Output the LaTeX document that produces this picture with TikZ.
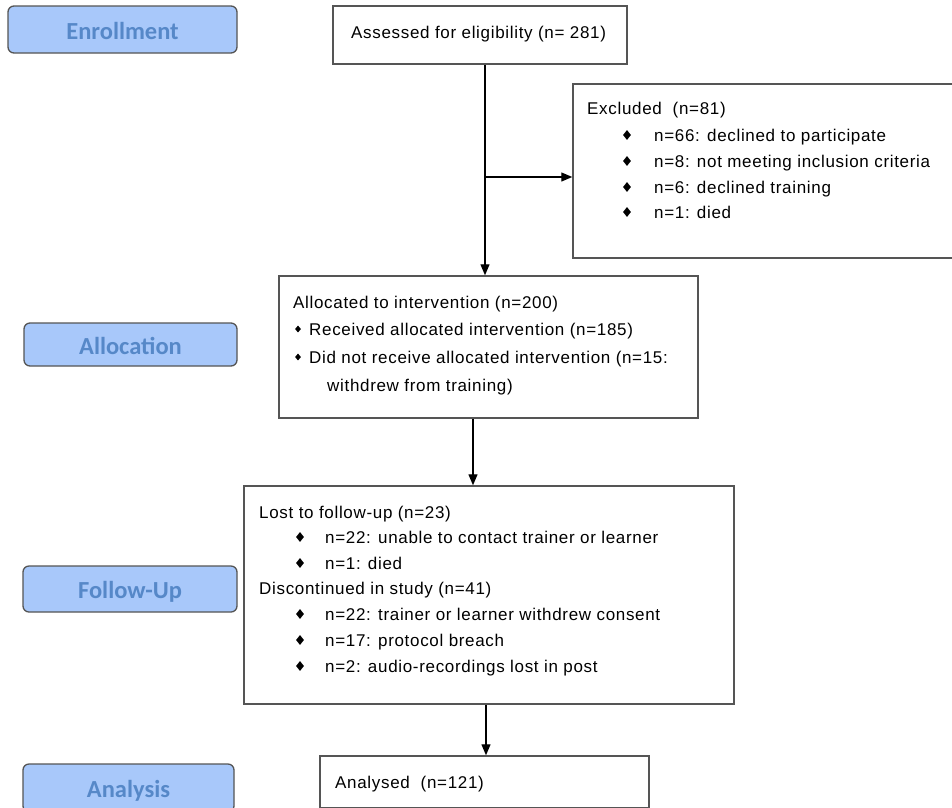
\documentclass[tikz,border=0pt]{standalone}
\usepackage{fontspec}
\setmainfont{Liberation Sans}
\newfontfamily\bodyfont[LetterSpace=4]{Liberation Sans}
\newfontfamily\labfont{Carlito}
\usetikzlibrary{arrows.meta,shapes.geometric}
\definecolor{labfill}{RGB}{168,200,250}
\definecolor{labtext}{RGB}{86,136,200}
\definecolor{boxline}{RGB}{85,85,85}
\begin{document}
\begin{tikzpicture}[x=1pt,y=-1pt,
  flowbox/.style={draw=boxline,line width=1.5pt,fill=white,inner sep=0,rectangle},
  stagelab/.style={draw=boxline,line width=1.3pt,fill=labfill,rounded corners=6pt,inner sep=0,
    text height=19pt,text depth=0pt,
    text=labtext,font=\labfont\bfseries\fontsize{24.5}{28}\selectfont},
  txt/.style={anchor=base west,inner sep=0,font=\bodyfont\fontsize{17}{20}\selectfont},
  bul/.style={diamond,fill=black,inner sep=0,minimum width=8pt,minimum height=10pt},
  smallbul/.style={diamond,fill=black,inner sep=0,minimum width=6pt,minimum height=7pt},
  conn/.style={line width=1.3pt,draw=black},
  arr/.style={conn,-{Triangle[length=11pt,width=9pt]}}]
\useasboundingbox (0,0) rectangle (952,807);
\fill[white] (0,0) rectangle (952,807);

% stage labels
\node[stagelab,minimum width=229pt,minimum height=47pt] (enroll) at (122.5,29.5) {Enrollment};
\node[stagelab,minimum width=213pt,minimum height=43pt] (alloclab) at (130.5,344.5) {Allocation};
\node[stagelab,minimum width=214pt,minimum height=46pt] (fulab) at (130,589) {Follow-Up};
\node[stagelab,minimum width=211pt,minimum height=48pt] (analab) at (128.5,788) {Analysis};

% flow boxes
\node[flowbox,minimum width=294pt,minimum height=58pt] (assess) at (480,35) {};
\node[flowbox,minimum width=387pt,minimum height=174pt] (excl) at (766.5,171) {};
\node[flowbox,minimum width=419pt,minimum height=142pt] (alloc) at (488.5,347) {};
\node[flowbox,minimum width=490pt,minimum height=218pt] (fu) at (489,595) {};
\node[flowbox,minimum width=329pt,minimum height=52pt] (anal) at (484.5,782) {};

% connectors
\coordinate (j) at (485,177);
\coordinate (c2) at (473,450);
\coordinate (c3) at (486,730);
\draw[conn] (assess.south -| j) -- (j);
\draw[arr] (j) -- (alloc.north -| j);
\draw[arr] (j) -- (excl.west |- j);
\draw[arr] (alloc.south -| c2) -- (fu.north -| c2);
\draw[arr] (fu.south -| c3) -- (anal.north -| c3);

% texts
\node[txt] (t0) at (351,38) {Assessed for eligibility (n= 281)};

\node[txt] (e0) at (587,114) {Excluded\ \ (n=81)};
\node[bul] (eb1) at (627,135) {};
\node[txt] (e1) at (654,141) {n=66: declined to participate};
\node[bul] (eb2) at (627,161) {};
\node[txt] (e2) at (654,167) {n=8: not meeting inclusion criteria};
\node[bul] (eb3) at (627,187) {};
\node[txt] (e3) at (654,193) {n=6: declined training};
\node[bul] (eb4) at (627,212) {};
\node[txt] (e4) at (654,218) {n=1: died};

\node[txt] (a0) at (293,308) {Allocated to intervention (n=200)};
\node[smallbul] (ab1) at (298,329) {};
\node[txt] (a1) at (309,335) {Received allocated intervention (n=185)};
\node[smallbul] (ab2) at (298,357) {};
\node[txt] (a2) at (309,363) {Did not receive allocated intervention (n=15:};
\node[txt] (a3) at (327,391) {withdrew from training)};

\node[txt] (f0) at (259,518) {Lost to follow-up (n=23)};
\node[bul] (fb1) at (300,537) {};
\node[txt] (f1) at (325,543) {n=22: unable to contact trainer or learner};
\node[bul] (fb2) at (300,563) {};
\node[txt] (f2) at (325,569) {n=1: died};
\node[txt] (f3) at (259,594) {Discontinued in study (n=41)};
\node[bul] (fb3) at (300,614) {};
\node[txt] (f4) at (325,620) {n=22: trainer or learner withdrew consent};
\node[bul] (fb4) at (300,640) {};
\node[txt] (f5) at (325,646) {n=17: protocol breach};
\node[bul] (fb5) at (300,666) {};
\node[txt] (f6) at (325,672) {n=2: audio-recordings lost in post};

\node[txt] (n0) at (335,788) {Analysed\ \ (n=121)};
\end{tikzpicture}
\end{document}
